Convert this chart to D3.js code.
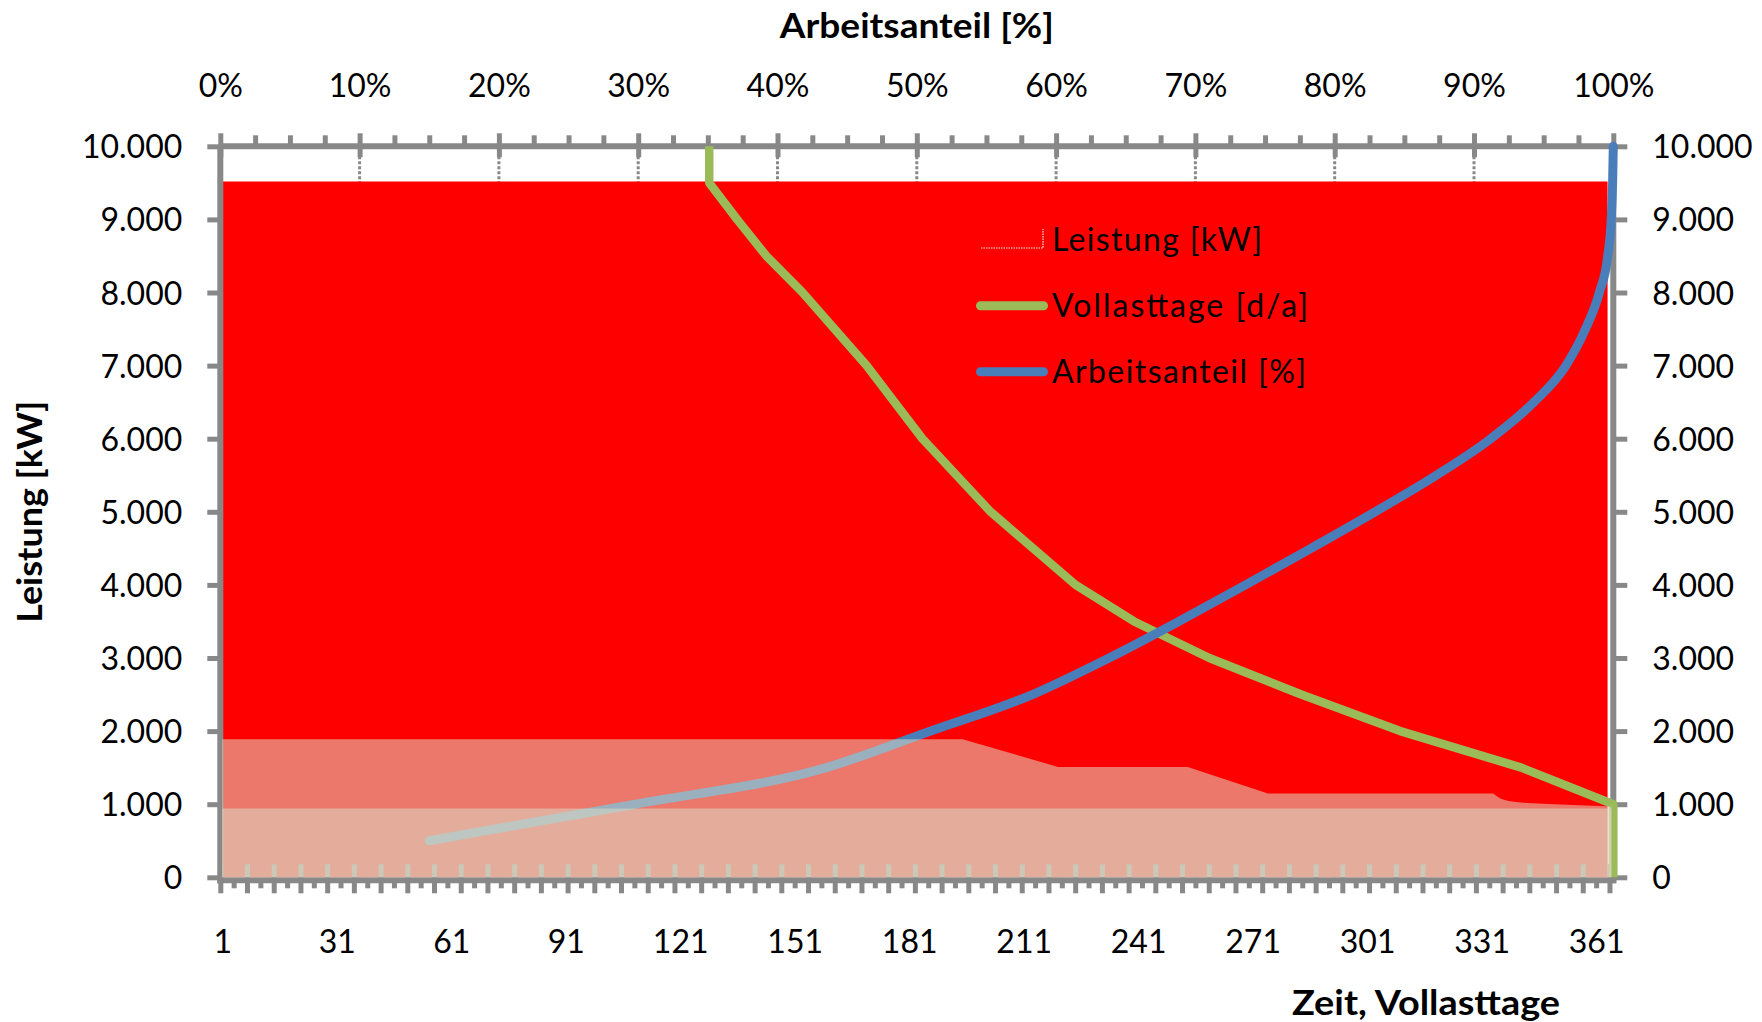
<!DOCTYPE html>
<html><head><meta charset="utf-8">
<script src="https://cdn.jsdelivr.net/npm/d3@7"></script>
<style>
body{margin:0;background:#fff;}
svg{display:block;font-family:Lato,"Open Sans",sans-serif;}
</style></head><body>
<svg id="c" width="1762" height="1022"></svg>
<script>
// ---------- data ----------
const leistungTicks = [0,1000,2000,3000,4000,5000,6000,7000,8000,9000,10000];
const pctTicks = [0,10,20,30,40,50,60,70,80,90,100];
const dayLabels = [1,31,61,91,121,151,181,211,241,271,301,331,361];

// Leistung [kW] (gesamt)
const gesamtDays = [1,364];
const gesamtKW   = [9520,9520];
// Stufe (obere Teilfläche)
const stufeDays = [1,195,220,254,275,334,335,336,338,340,343,347,355,365];
const stufeKW   = [1890,1890,1510,1510,1145,1145,1110,1075,1045,1030,1015,1005,990,970];
// Grundlast
const grundDays = [1,365];
const grundKW   = [940,940];

// Vollasttage [d/a]  (x: Arbeitsanteil %, y: kW)
const vollPct = [35.1,35.1,37.1,39.2,41.8,46.4,50.4,55.3,61.4,65.6,71.0,77.6,84.7,93.4,100,100];
const vollKW  = [10000,9500,9000,8500,8000,7000,6000,5000,4000,3500,3000,2500,2000,1500,1000,0];
// Arbeitsanteil [%]
const arbPct = [15,29.8,43.5,51,58.3,63.8,68.8,73.6,78.3,82.9,87.3,91.2,94.3,96.6,98.0,99.0,99.6,99.85,99.95,100];
const arbKW  = [500,1000,1500,2000,2500,3000,3500,4000,4500,5000,5500,6000,6500,7000,7500,8000,8500,9000,9500,10000];

// ---------- setup ----------
const svg = d3.select("#c");
const L = 220.3, R = 1613.3, T = 146.3, B = 877.3;
const y = d3.scaleLinear().domain([0,10000]).range([B,T]);
// category axis: each day occupies one slot, labels at slot centres
const xDay = d3.scaleLinear().domain([0.5,365.5]).range([L,R]);
const xPct = d3.scaleLinear().domain([0,100]).range([L,R]);
const de = d3.formatLocale({decimal:",",thousands:".",grouping:[3],currency:["","€"]});
const fmt = de.format(",.0f");
const GRAY = "#888888";
const FS = 32;

// gridlines (secondary x) behind areas
svg.append("g").selectAll("line").data(pctTicks.slice(1,-1)).join("line")
  .attr("x1",d=>xPct(d)).attr("x2",d=>xPct(d)).attr("y1",T).attr("y2",B)
  .attr("stroke",GRAY).attr("stroke-width",3).attr("stroke-dasharray","3,2");

// red area
const area = (xs) => d3.area().x(d=>xs(d[0])).y0(y(0)).y1(d=>y(d[1]));
svg.append("path").datum(d3.zip(gesamtDays,gesamtKW))
  .attr("d",area(xDay)).attr("fill","#FF0000");

// ---------- axes ----------
const axG = svg.append("g");
axG.append("line").attr("x1",L).attr("x2",R).attr("y1",T).attr("y2",T).attr("stroke",GRAY).attr("stroke-width",6);
axG.append("line").attr("x1",L-3).attr("x2",R+3).attr("y1",B+3).attr("y2",B+3).attr("stroke",GRAY).attr("stroke-width",6);
axG.append("line").attr("x1",L).attr("x2",L).attr("y1",T).attr("y2",B+6).attr("stroke",GRAY).attr("stroke-width",6);
axG.append("line").attr("x1",R).attr("x2",R).attr("y1",T).attr("y2",B+6).attr("stroke",GRAY).attr("stroke-width",6);

function styleAxis(g){
  g.select(".domain").remove();
  g.selectAll(".tick line").attr("stroke",GRAY).attr("stroke-width",5);
  g.selectAll(".tick text").attr("fill","#000").attr("font-size",FS).attr("font-family","Lato");
}
axG.append("g").attr("transform",`translate(${L},0)`)
  .call(d3.axisLeft(y).tickValues(leistungTicks).tickFormat(fmt).tickSize(13).tickPadding(25))
  .call(styleAxis).call(g=>g.selectAll(".tick text").attr("dy","0.36em"));
axG.append("g").attr("transform",`translate(${R},0)`)
  .call(d3.axisRight(y).tickValues(leistungTicks).tickFormat(fmt).tickSize(14).tickPadding(25))
  .call(styleAxis).call(g=>g.selectAll(".tick text").attr("dy","0.36em"));
const minorPct = d3.range(2.5,100,2.5).filter(d=>d%10!==0);
axG.append("g").attr("transform",`translate(0,${T})`)
  .call(d3.axisTop(xPct).tickValues(minorPct).tickFormat("").tickSize(11))
  .call(styleAxis);
axG.append("g").attr("transform",`translate(0,${T})`)
  .call(d3.axisTop(xPct).tickValues(pctTicks).tickFormat(d=>d+"%").tickSize(13).tickPadding(36))
  .call(styleAxis)
  .call(g=>g.selectAll(".tick line").attr("y1",11))
  .call(g=>g.selectAll(".tick text").attr("dy","0"));
// tick marks every 7 day-slots (slot boundaries), minor ticks halfway
const majorDays = d3.range(0.5,366,7);
const minorDays = d3.range(4,365,7);
axG.append("g").attr("transform",`translate(0,${B+3})`)
  .call(d3.axisBottom(xDay).tickValues(minorDays).tickFormat("").tickSize(8))
  .call(styleAxis);
axG.append("g").attr("transform",`translate(0,${B+3})`)
  .call(d3.axisBottom(xDay).tickValues(majorDays).tickFormat("").tickSize(13))
  .call(styleAxis)
  .call(g=>g.selectAll(".tick line").attr("y1",-16));
axG.append("g").attr("transform",`translate(0,${B})`)
  .call(d3.axisBottom(xDay).tickValues(dayLabels).tickFormat(d=>d).tickSize(0).tickPadding(53))
  .call(styleAxis)
  .call(g=>g.selectAll(".tick text").attr("dy","0.71em"));

// ---------- lines ----------
svg.append("path").datum(d3.zip(vollPct,vollKW))
  .attr("d",d3.line().x(d=>xPct(d[0])).y(d=>y(d[1])))
  .attr("fill","none").attr("stroke","#9BBB59").attr("stroke-width",8.5)
  .attr("stroke-linejoin","round");
svg.append("path").datum(d3.zip(arbPct,arbKW))
  .attr("d",d3.line().x(d=>xPct(d[0])).y(d=>y(d[1])).curve(d3.curveMonotoneX))
  .attr("fill","none").attr("stroke","#4A7EBB").attr("stroke-width",9)
  .attr("stroke-linecap","round").attr("stroke-linejoin","round");

// ---------- translucent overlays ----------
svg.append("path").datum(d3.zip(stufeDays,stufeKW))
  .attr("d",area(xDay)).attr("fill","#DDD9C3").attr("fill-opacity",0.55);
svg.append("path").datum(d3.zip(grundDays,grundKW))
  .attr("d",area(xDay)).attr("fill","#DDD9C3").attr("fill-opacity",0.55);

// ---------- titles ----------
svg.append("text").attr("x",(L+R)/2).attr("y",38).attr("text-anchor","middle")
  .attr("font-weight","bold").attr("font-size",34)
  .attr("textLength",274).attr("lengthAdjust","spacingAndGlyphs").text("Arbeitsanteil [%]");
svg.append("text").attr("transform",`translate(42,${(T+B)/2}) rotate(-90)`).attr("text-anchor","middle")
  .attr("font-weight","bold").attr("font-size",34)
  .attr("textLength",222).attr("lengthAdjust","spacingAndGlyphs").text("Leistung [kW]");
svg.append("text").attr("x",1560).attr("y",1015).attr("text-anchor","end")
  .attr("font-weight","bold").attr("font-size",34)
  .attr("textLength",268).attr("lengthAdjust","spacingAndGlyphs").text("Zeit, Vollasttage");

// ---------- legend ----------
const leg = svg.append("g");
leg.append("path").attr("d","M981,248H1043V229").attr("fill","none")
  .attr("stroke","#e8e8e8").attr("stroke-width",1.2).attr("stroke-dasharray","1.5,1");
leg.append("line").attr("x1",980.5).attr("x2",1043.5).attr("y1",305.7).attr("y2",305.7)
  .attr("stroke","#9BBB59").attr("stroke-width",9).attr("stroke-linecap","round");
leg.append("line").attr("x1",980.5).attr("x2",1043.5).attr("y1",371.7).attr("y2",371.7)
  .attr("stroke","#4A7EBB").attr("stroke-width",9).attr("stroke-linecap","round");
const legItems = [["Leistung [kW]",251,210],["Vollasttage [d/a]",317,256],["Arbeitsanteil [%]",383,254]];
leg.selectAll("text").data(legItems).join("text")
  .attr("x",1052).attr("y",d=>d[1]).attr("font-size",32)
  .attr("textLength",d=>d[2]).attr("lengthAdjust","spacing").text(d=>d[0]);
</script>
</body></html>
